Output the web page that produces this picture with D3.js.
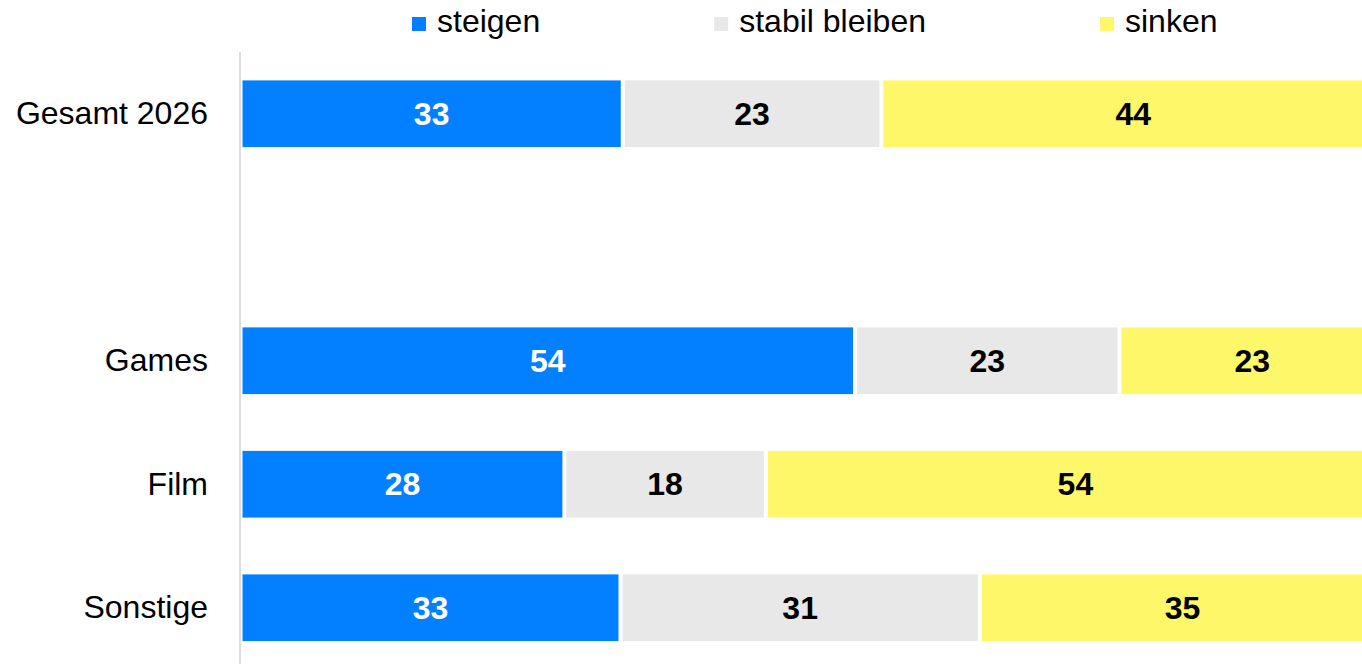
<!DOCTYPE html>
<html lang="de">
<head>
<meta charset="UTF-8">
<title>steigen / stabil bleiben / sinken</title>
<style>
    body {
        margin: 0;
        background: #fff;
        overflow: hidden;
        font-family: "Liberation Sans", Arial, sans-serif;
    }
    svg { display: block; }
    .cat text { font-size: 32px; fill: #000; }
    .legend text { font-size: 32px; fill: #000; }
    .val { font-size: 32px; font-weight: bold; }
</style>
</head>
<body>
<div id="chart"></div>

<script src="https://d3js.org/d3.v7.min.js"></script>
<script>
    // data (percent), blank row keeps the gap under "Gesamt 2026"
    const categories = ["Gesamt 2026", "", "Games", "Film", "Sonstige"];
    const seriesKeys = ["steigen", "stabil bleiben", "sinken"];
    const steigen = [33.4, null, 53.7, 28.3, 33.2];
    const stabil = [22.6, null, 23.1, 17.6, 31.4];
    const sinken = [44.0, null, 23.2, 54.1, 35.4];
    const colors = ["#0380ff", "#e8e8e8", "#fff76a"];
    const labelColors = ["#fff", "#000", "#000"];

    const width = 1362;
    const height = 664;
    const gap = 4;

    const rows = categories.map((c, i) => ({
        cat: c,
        "steigen": steigen[i],
        "stabil bleiben": stabil[i],
        "sinken": sinken[i]
    })).filter(r => r.steigen != null);

    const svg = d3.select("#chart").append("svg")
        .attr("width", width)
        .attr("height", height);

    const x = d3.scaleLinear().domain([0, 100]).range([240.5, 1385]);
    const y = d3.scaleBand()
        .domain(categories)
        .range([52, 669.5])
        .paddingInner(0.46)
        .paddingOuter(0.23);

    const stack = d3.stack().keys(seriesKeys)(rows);

    // left axis line
    svg.append("line")
        .attr("x1", 240).attr("x2", 240)
        .attr("y1", y.range()[0]).attr("y2", height)
        .attr("stroke", "#dcdcdc")
        .attr("stroke-width", 2);

    const groups = svg.selectAll(".series")
        .data(stack)
        .enter().append("g")
        .attr("class", "series");

    groups.selectAll("rect")
        .data(d => d)
        .enter().append("rect")
        .attr("x", d => x(d[0]) + gap / 2)
        .attr("y", d => y(d.data.cat))
        .attr("width", d => x(d[1]) - x(d[0]) - gap)
        .attr("height", y.bandwidth())
        .attr("fill", function () { return colors[d3.select(this.parentNode).datum().index]; });

    groups.selectAll("text")
        .data(d => d)
        .enter().append("text")
        .attr("class", "val")
        .attr("x", d => (x(d[0]) + x(d[1])) / 2)
        .attr("y", d => y(d.data.cat) + y.bandwidth() / 2)
        .attr("dy", "0.34em")
        .attr("text-anchor", "middle")
        .attr("fill", function () { return labelColors[d3.select(this.parentNode).datum().index]; })
        .text(function (d) {
            const key = d3.select(this.parentNode).datum().key;
            return d3.format(".0f")(d.data[key]);
        });

    // category labels
    svg.append("g")
        .attr("class", "cat")
        .attr("transform", "translate(239,0)")
        .call(d3.axisLeft(y).tickSize(0).tickPadding(31))
        .call(g => g.select(".domain").remove())
        .call(g => g.selectAll("text").attr("font-family", null).attr("font-size", null));

    // legend, centred over the bar area
    const legend = svg.append("g").attr("class", "legend");
    const items = legend.selectAll("g")
        .data(seriesKeys)
        .enter().append("g");
    items.append("rect")
        .attr("y", 17)
        .attr("width", 14)
        .attr("height", 14)
        .attr("fill", (d, i) => colors[i]);
    items.append("text")
        .attr("x", 25)
        .attr("y", 32)
        .text(d => d);

    const itemGap = 174;
    let pos = 0;
    const offsets = [];
    items.each(function () {
        offsets.push(pos);
        pos += this.getBBox().width + itemGap;
    });
    const total = pos - itemGap;
    const startX = (x(0) + x(100)) / 2 - total / 2 + 2;
    items.attr("transform", (d, i) => "translate(" + (startX + offsets[i]) + ",0)");
</script>
</body>
</html>
